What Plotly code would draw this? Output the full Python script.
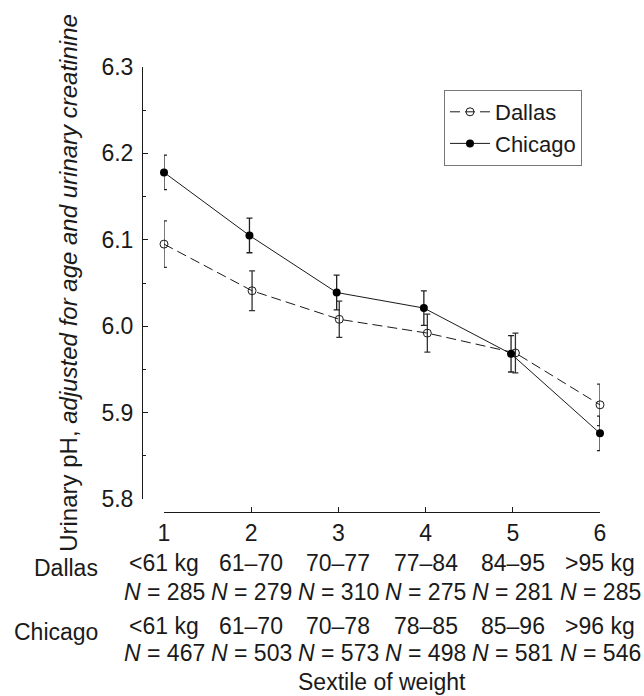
import plotly.graph_objects as go

# ---- data ----
sextiles = [1, 2, 3, 4, 5, 6]
dallas_x = [1, 2.01, 3.01, 4.02, 5.03, 6]
chicago_x = [1, 1.98, 2.98, 3.98, 4.98, 6]
dallas_ph = [6.095, 6.041, 6.008, 5.992, 5.969, 5.909]
dallas_err = [0.027, 0.023, 0.021, 0.022, 0.023, 0.024]
chicago_ph = [6.178, 6.105, 6.039, 6.021, 5.968, 5.876]
chicago_err = [0.020, 0.020, 0.020, 0.020, 0.021, 0.020]
dallas_ranges = ["&lt;61 kg", "61–70", "70–77", "77–84", "84–95", "&gt;95 kg"]
dallas_n = [285, 279, 310, 275, 281, 285]
chicago_ranges = ["&lt;61 kg", "61–70", "70–78", "78–85", "85–96", "&gt;96 kg"]
chicago_n = [467, 503, 573, 498, 581, 546]
y_ticks = [5.8, 5.9, 6.0, 6.1, 6.2, 6.3]

W, H = 644, 696
def px(v):
    return v / W
def py(v):
    return 1 - v / H

FONT = "Liberation Sans, Arial, Helvetica, sans-serif"
INK = "#1a1a1a"
FS = 23

fig = go.Figure()
fig.add_trace(go.Scatter(
    x=dallas_x, y=dallas_ph, name="Dallas", mode="lines+markers",
    line=dict(color=INK, width=1, dash="10px,5px"),
    marker=dict(symbol="circle-open", size=8, color=INK, line=dict(width=1, color=INK)),
    error_y=dict(type="data", array=dallas_err, color="#333", thickness=1.3, width=3),
    cliponaxis=False,
))
fig.add_trace(go.Scatter(
    x=chicago_x, y=chicago_ph, name="Chicago", mode="lines+markers",
    line=dict(color=INK, width=1),
    marker=dict(symbol="circle", size=8, color="#000"),
    error_y=dict(type="data", array=chicago_err, color="#222", thickness=1.3, width=3),
    cliponaxis=False,
))

annotations = []
rows = [
    (dallas_ranges, 563),
    ([f"<i>N</i> = {n}" for n in dallas_n], 592),
    (chicago_ranges, 626),
    ([f"<i>N</i> = {n}" for n in chicago_n], 653),
]
for texts, ypix in rows:
    for s, t in zip(sextiles, texts):
        annotations.append(dict(
            x=s, xref="x", y=py(ypix), yref="paper", text=t, showarrow=False,
            xanchor="center", yanchor="middle", font=dict(size=FS, color=INK, family=FONT),
        ))
for label, ypix in [("Dallas", 568), ("Chicago", 632)]:
    annotations.append(dict(
        x=px(100), xref="paper", y=py(ypix), yref="paper", text=label, showarrow=False,
        xanchor="right", yanchor="middle", font=dict(size=FS, color=INK, family=FONT),
    ))
annotations.append(dict(
    x=3.5, xref="x", y=0, yref="paper", text="Sextile of weight", showarrow=False,
    xanchor="center", yanchor="bottom", borderpad=0,
    font=dict(size=FS, color=INK, family=FONT),
))

fig.update_layout(
    width=W, height=H,
    margin=dict(l=0, r=0, t=0, b=0),
    paper_bgcolor="white", plot_bgcolor="white",
    font=dict(family=FONT, size=FS, color=INK),
    showlegend=True,
    legend=dict(
        x=px(444), y=py(90), xanchor="left", yanchor="top",
        bordercolor="#777", borderwidth=1, bgcolor="white", itemwidth=40,
        font=dict(size=22, family=FONT, color=INK), tracegroupgap=0,
    ),
    xaxis=dict(
        domain=[px(164), px(600)], range=[1, 6], anchor="free", position=py(512),
        showline=True, linecolor=INK, linewidth=1, ticks="inside", ticklen=5,
        tickcolor=INK, tickvals=sextiles, showgrid=False, zeroline=False,
        tickfont=dict(size=FS, family=FONT, color=INK), automargin=False,
    ),
    yaxis=dict(
        domain=[py(499), py(67)], range=[5.8, 6.3], anchor="free", position=px(142),
        showline=True, linecolor=INK, linewidth=1, ticks="inside", ticklen=5,
        tickcolor=INK, tickvals=y_ticks, tickformat=".1f", showgrid=False, zeroline=False,
        minor=dict(dtick=0.05, ticks="inside", ticklen=3, tickcolor=INK, showgrid=False),
        tickfont=dict(size=FS, family=FONT, color=INK), ticklabelstandoff=4,
        title=dict(text="Urinary pH, <i>adjusted for age and urinary creatinine</i>",
                   font=dict(size=24, family=FONT, color=INK), standoff=16),
        automargin=False,
    ),
    annotations=annotations,
)

fig.write_html(
    "out.html",
    config={"displayModeBar": False},
    post_script="document.body.style.margin='0';document.body.style.overflow='hidden';",
)
